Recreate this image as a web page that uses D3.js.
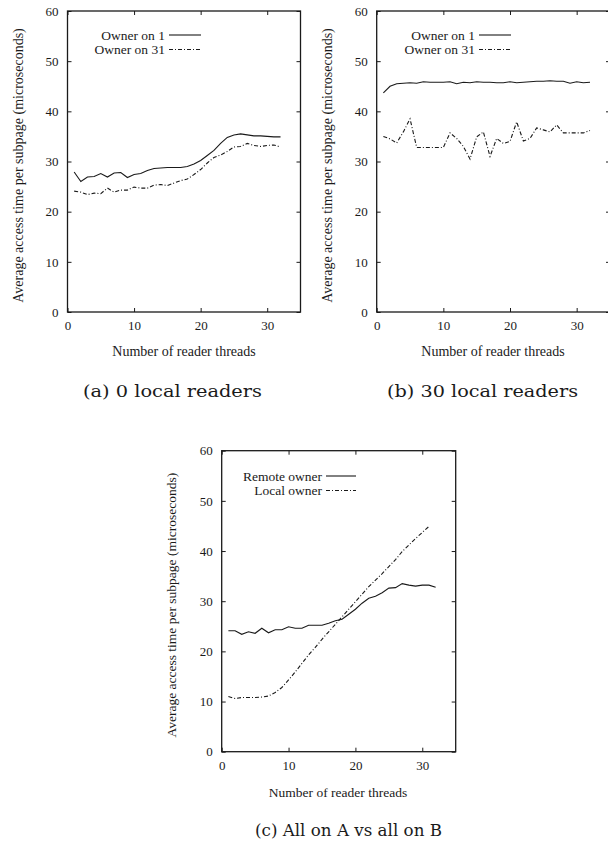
<!DOCTYPE html>
<html>
<head>
<meta charset="utf-8">
<script src="https://d3js.org/d3.v7.min.js"></script>
<style>
  body { margin: 0; background: #fff; }
  svg { display: block; }
</style>
</head>
<body>
<div id="chart"></div>
<script>
// Data: x = number of reader threads
var threads = d3.range(1, 33);
var threadsLocal = d3.range(1, 32);

// (a) 0 local readers
var aOwner1 = [27.9, 26.0, 26.9, 27.0, 27.6, 26.9, 27.7, 27.8, 26.8, 27.4, 27.6, 28.2, 28.6, 28.7, 28.8, 28.8,
  28.8, 29.0, 29.5, 30.2, 31.2, 32.2, 33.6, 34.8, 35.3, 35.5, 35.3, 35.1, 35.1, 35.0, 34.9, 34.9];
var aOwner31 = [24.1, 23.9, 23.4, 23.7, 23.6, 24.7, 23.9, 24.3, 24.3, 24.9, 24.7, 24.7, 25.3, 25.4, 25.2, 25.7,
  26.2, 26.5, 27.4, 28.4, 29.7, 30.8, 31.3, 32.0, 32.9, 33.0, 33.6, 33.2, 33.0, 33.2, 33.3, 32.9];

// (b) 30 local readers
var bOwner1 = [43.7, 45.0, 45.5, 45.6, 45.7, 45.6, 45.9, 45.8, 45.8, 45.8, 45.9, 45.5, 45.8, 45.7, 45.9, 45.8,
  45.8, 45.7, 45.7, 45.9, 45.7, 45.8, 45.9, 46.0, 46.0, 46.1, 46.0, 46.0, 45.6, 45.9, 45.7, 45.8];
var bOwner31 = [35.0, 34.5, 33.7, 35.9, 38.5, 32.8, 32.8, 32.8, 32.8, 32.8, 35.7, 34.6, 33.0, 30.5, 34.9, 35.9,
  31.0, 34.6, 33.6, 34.0, 37.9, 34.1, 34.6, 36.7, 36.3, 35.9, 37.3, 35.7, 35.7, 35.7, 35.7, 36.2];

// (c) All on A vs all on B
var cRemote = [24.1, 24.1, 23.4, 23.9, 23.6, 24.6, 23.7, 24.3, 24.3, 24.9, 24.6, 24.6, 25.2, 25.2, 25.2, 25.6,
  26.1, 26.4, 27.4, 28.4, 29.6, 30.6, 31.0, 31.7, 32.6, 32.7, 33.5, 33.2, 33.0, 33.2, 33.2, 32.8];
var cLocal = [11.0, 10.6, 10.8, 10.8, 10.8, 10.9, 11.1, 11.8, 12.8, 14.3, 15.9, 17.6, 19.3, 20.8, 22.4, 23.9,
  25.4, 26.9, 28.4, 29.9, 31.4, 32.9, 34.2, 35.5, 36.9, 38.3, 39.9, 41.2, 42.5, 43.7, 44.9];

var xTicks = [0, 10, 20, 30];
var yTicks = [0, 10, 20, 30, 40, 50, 60];
var xLabel = "Number of reader threads";
var yLabel = "Average access time per subpage (microseconds)";

var svgWidth = 608;
var svgHeight = 844;

var svg = d3.select("#chart").append("svg")
  .attr("width", svgWidth)
  .attr("height", svgHeight);

var serif = "'Liberation Serif', 'Times New Roman', serif";
var ink = "#1a1a1a";
var dashDot = "4,2,1,2";

var panels = [
  {
    left: 67.5, right: 300.5, top: 11, bottom: 312,
    series: [
      { name: "Owner on 1", x: threads, y: aOwner1, dash: null },
      { name: "Owner on 31", x: threads, y: aOwner31, dash: dashDot }
    ],
    legendRight: 165, legendY: 35, sampleLen: 32, labelSize: 14,
    xLabelX: 184, xLabelY: 356, yLabelX: 18,
    caption: "(a) 0 local readers", captionX: 172.5, captionY: 397, captionLen: 179
  },
  {
    left: 376.7, right: 610, top: 11, bottom: 312,
    series: [
      { name: "Owner on 1", x: threads, y: bOwner1, dash: null },
      { name: "Owner on 31", x: threads, y: bOwner31, dash: dashDot }
    ],
    legendRight: 475, legendY: 35, sampleLen: 32, labelSize: 14,
    xLabelX: 493, xLabelY: 356, yLabelX: 327,
    caption: "(b) 30 local readers", captionX: 482.5, captionY: 397, captionLen: 191
  },
  {
    left: 221.7, right: 455.7, top: 450.7, bottom: 751.7,
    series: [
      { name: "Remote owner", x: threads, y: cRemote, dash: null },
      { name: "Local owner", x: threadsLocal, y: cLocal, dash: dashDot }
    ],
    legendRight: 322, legendY: 476, sampleLen: 30, labelSize: 13.5,
    xLabelX: 338, xLabelY: 797, yLabelX: 171,
    caption: "(c) All on A vs all on B", captionX: 348.5, captionY: 836, captionLen: 187
  }
];

panels.forEach(function(p) {
  var xScale = d3.scaleLinear().domain([0, 35]).range([p.left, p.right]);
  var yScale = d3.scaleLinear().domain([0, 60]).range([p.bottom, p.top]);

  var g = svg.append("g");

  // mirrored inward ticks on all four sides (gnuplot style)
  var bottomAxis = d3.axisBottom(xScale).tickValues(xTicks).tickSizeInner(-4).tickSizeOuter(0).tickPadding(9);
  var topAxis = d3.axisTop(xScale).tickValues(xTicks).tickSizeInner(-4).tickSizeOuter(0).tickFormat("");
  var leftAxis = d3.axisLeft(yScale).tickValues(yTicks).tickSizeInner(-4).tickSizeOuter(0).tickPadding(9);
  var rightAxis = d3.axisRight(yScale).tickValues(yTicks).tickSizeInner(-4).tickSizeOuter(0).tickFormat("");

  g.append("g").attr("transform", `translate(0, ${p.bottom})`).call(bottomAxis);
  g.append("g").attr("transform", `translate(0, ${p.top})`).call(topAxis);
  g.append("g").attr("transform", `translate(${p.left}, 0)`).call(leftAxis);
  g.append("g").attr("transform", `translate(${p.right}, 0)`).call(rightAxis);

  g.selectAll(".domain").remove();
  g.selectAll(".tick line").attr("stroke", ink).attr("stroke-width", 1);
  g.selectAll(".tick text")
    .attr("fill", ink)
    .style("font-family", serif)
    .style("font-size", "13px");

  // frame
  g.append("rect")
    .attr("x", p.left)
    .attr("y", p.top)
    .attr("width", p.right - p.left)
    .attr("height", p.bottom - p.top)
    .attr("fill", "none")
    .attr("stroke", ink)
    .attr("stroke-width", 1.3);

  // series lines
  p.series.forEach(function(s) {
    var pts = s.x.map(function(d, i) { return [d, s.y[i]]; });
    var line = d3.line()
      .x(d => xScale(d[0]))
      .y(d => yScale(d[1]));
    g.append("path")
      .datum(pts)
      .attr("d", line)
      .attr("fill", "none")
      .attr("stroke", ink)
      .attr("stroke-width", 1.1)
      .attr("stroke-dasharray", s.dash);
  });

  // legend
  p.series.forEach(function(s, i) {
    var ly = p.legendY + i * 14.5;
    g.append("text")
      .attr("x", p.legendRight)
      .attr("y", ly)
      .attr("dy", "0.35em")
      .attr("text-anchor", "end")
      .attr("fill", ink)
      .style("font-family", serif)
      .style("font-size", "13.5px")
      .text(s.name);
    g.append("line")
      .attr("x1", p.legendRight + 4)
      .attr("x2", p.legendRight + 4 + p.sampleLen)
      .attr("y1", ly)
      .attr("y2", ly)
      .attr("stroke", ink)
      .attr("stroke-width", 1.1)
      .attr("stroke-dasharray", s.dash);
  });

  // axis labels
  g.append("text")
    .attr("x", p.xLabelX)
    .attr("y", p.xLabelY)
    .attr("text-anchor", "middle")
    .attr("fill", ink)
    .style("font-family", serif)
    .style("font-size", p.labelSize + "px")
    .text(xLabel);

  g.append("text")
    .attr("transform", `translate(${p.yLabelX}, ${(p.top + p.bottom) / 2 + 4}) rotate(-90)`)
    .attr("dy", "0.35em")
    .attr("text-anchor", "middle")
    .attr("fill", ink)
    .style("font-family", serif)
    .style("font-size", p.labelSize + "px")
    .text(yLabel);

  // caption under the panel
  svg.append("text")
    .attr("x", p.captionX)
    .attr("y", p.captionY)
    .attr("text-anchor", "middle")
    .attr("textLength", p.captionLen)
    .attr("lengthAdjust", "spacingAndGlyphs")
    .attr("fill", ink)
    .style("font-family", "'DejaVu Serif', serif")
    .style("font-size", "17px")
    .text(p.caption);
});
</script>
</body>
</html>
